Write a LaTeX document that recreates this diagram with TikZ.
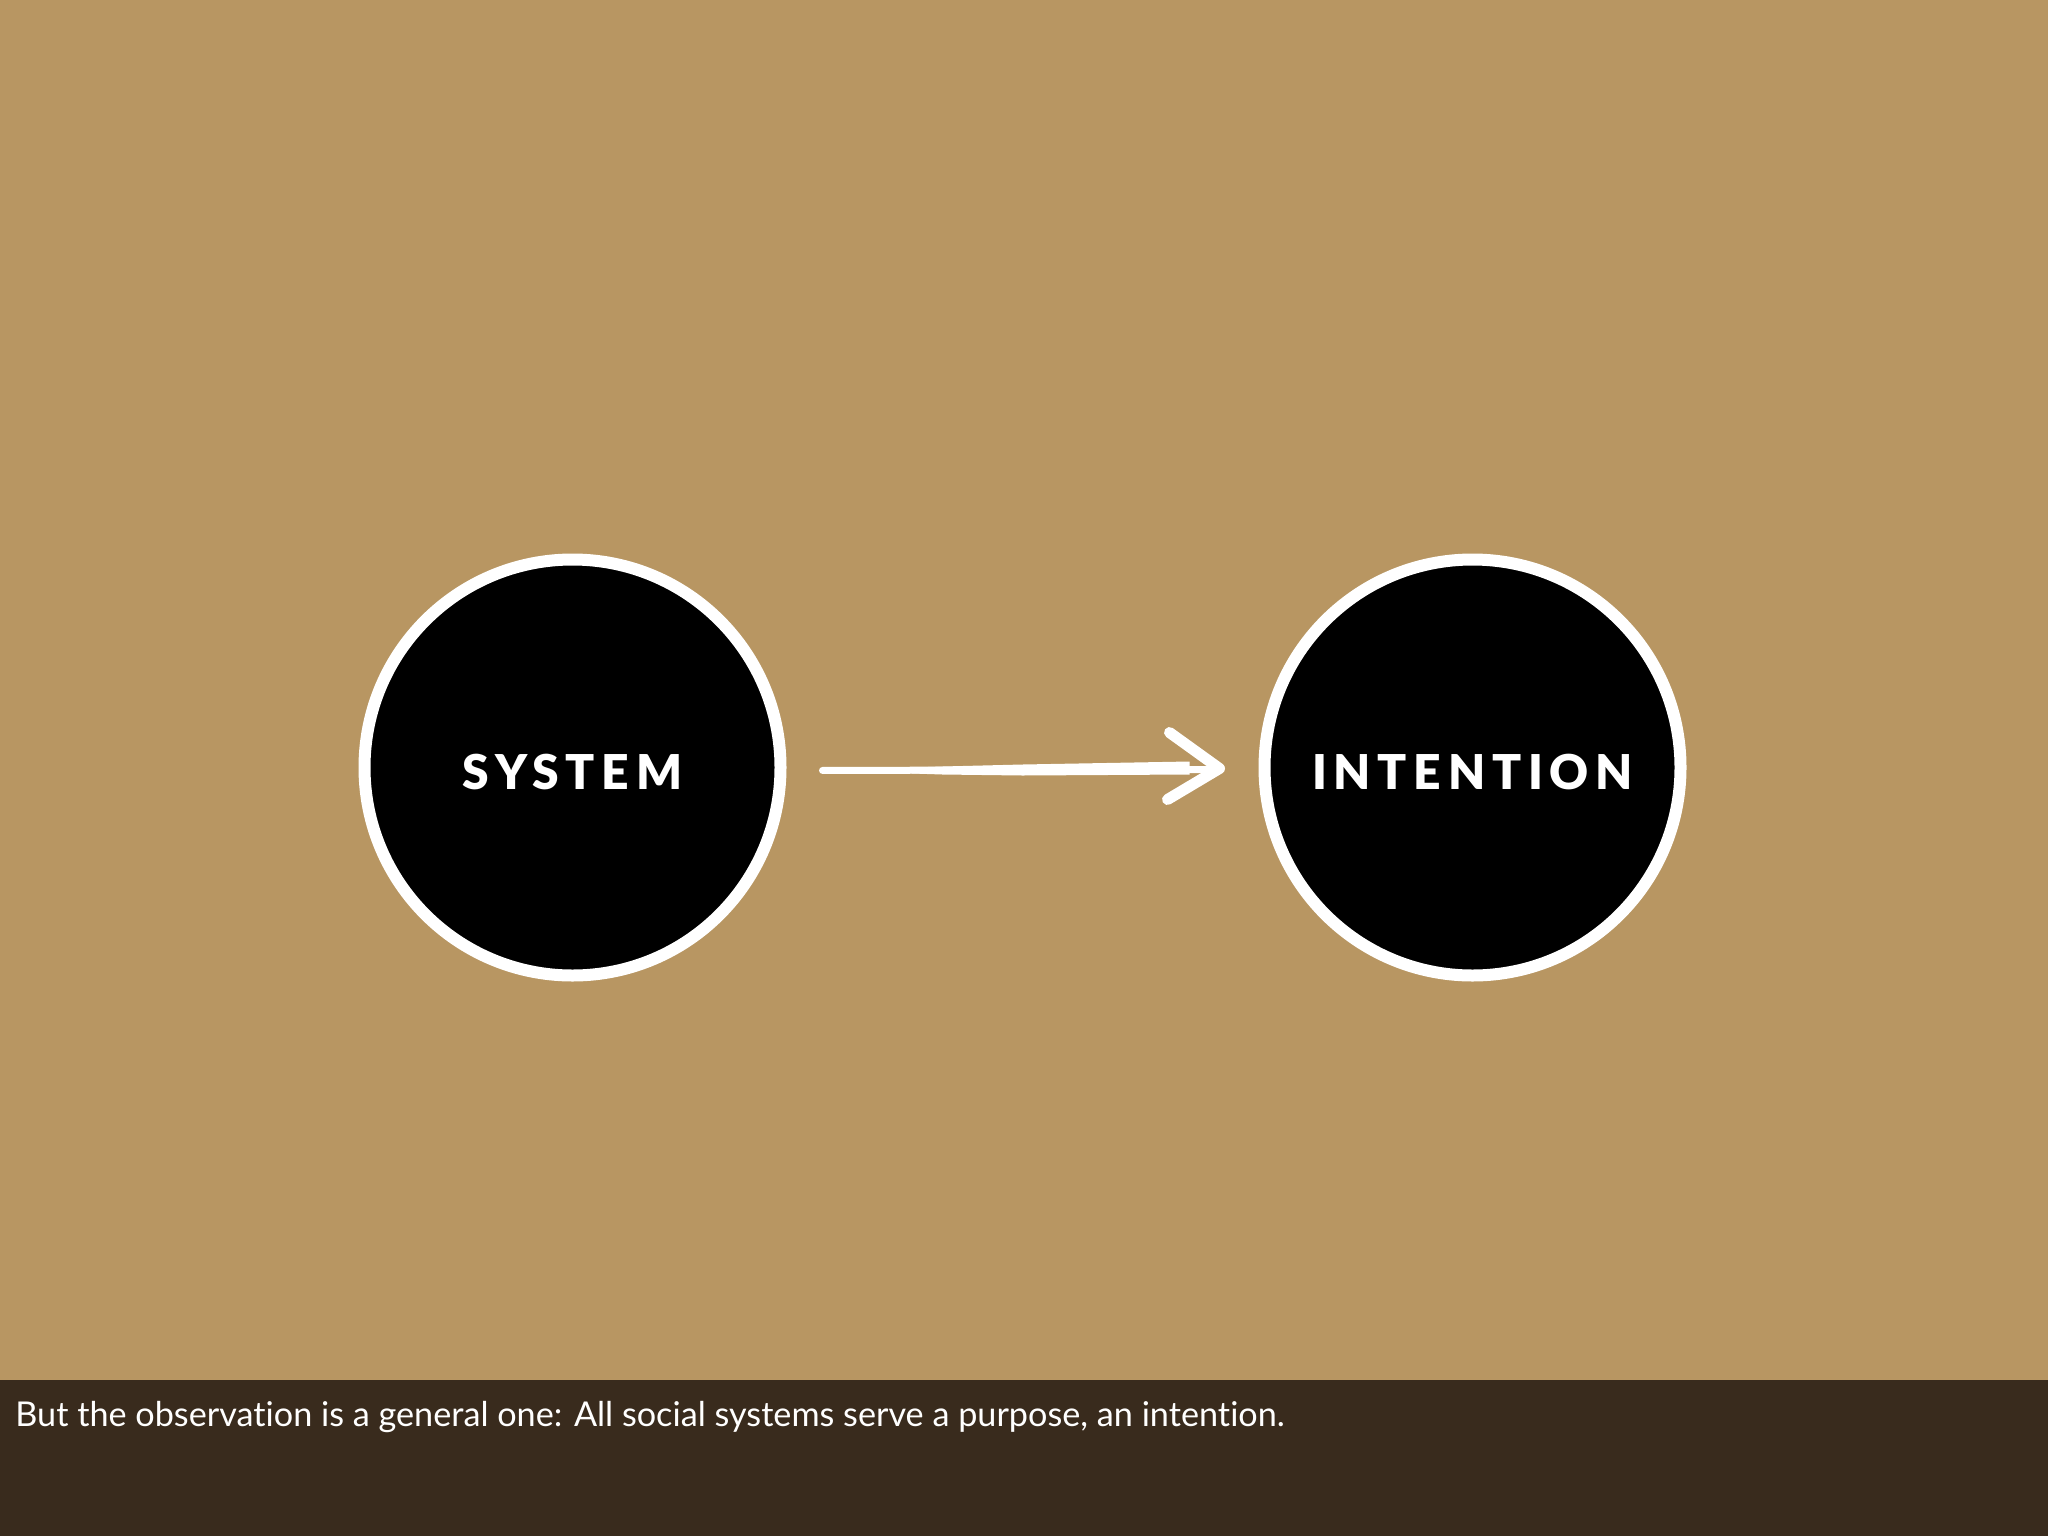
\documentclass[tikz,border=0pt]{standalone}
\usepackage{fontspec}
\setmainfont[Ligatures=NoCommon]{Lato}
\newfontfamily\labfont[LetterSpace=14]{Lato Black}
\usetikzlibrary{arrows.meta,calc}
\definecolor{paper}{RGB}{184,150,98}
\definecolor{bar}{RGB}{57,43,29}
\tikzset{
  bigcircle/.style={circle, fill=black, draw=white, line width=6pt, minimum size=208pt, inner sep=0pt, text=white, font=\labfont\fontsize{24}{24}\selectfont},
  chalk/.style={white, line width=3.5pt, line cap=round},
  chalkhead/.style={white, line width=5.5pt, line cap=round, line join=round},
  caption/.style={anchor=base west, inner sep=0pt, text=white, font=\fontsize{17.1}{17.1}\selectfont}
}
\begin{document}
\begin{tikzpicture}[x=0.5pt,y=-0.5pt]
\useasboundingbox (0,0) rectangle (2048,1536);
\fill[paper] (0,0) rectangle (2048,1380);
\fill[bar] (0,1380) rectangle (2048,1536);
\node[bigcircle] (sys) at (572.5,767.5) {\raisebox{-11pt}[0pt][0pt]{SYSTEM}};
\node[bigcircle] (int) at (1472.5,767.5) {\raisebox{-11pt}[0pt][0pt]{INTENTION}};
\coordinate (s) at ($(sys.east)+(36,3)$);
\coordinate (e) at ($(int.west)+(-39,1)$);
% tapered chalk shaft
\fill[white] (s) -- ($(s)+(120,-4)$) -- ($(s)+(200,-6)$) -- ($(e)+(-30,-7)$) -- ($(e)+(-30,6)$) -- ($(s)+(200,5)$) -- ($(s)+(120,4)$) -- cycle;
\draw[chalk, shorten <=18pt, shorten >=19.5pt] ([yshift=-1.5pt]sys.east) -- ([yshift=-1pt]int.west);
\draw[chalkhead] ($(e)+(-50,-36)$) -- (e) -- ($(e)+(-52,31)$);
\node[caption] (cap) at (15,1426) {But the observation is a general one: All social systems serve a purpose, an intention.};
\end{tikzpicture}
\end{document}
